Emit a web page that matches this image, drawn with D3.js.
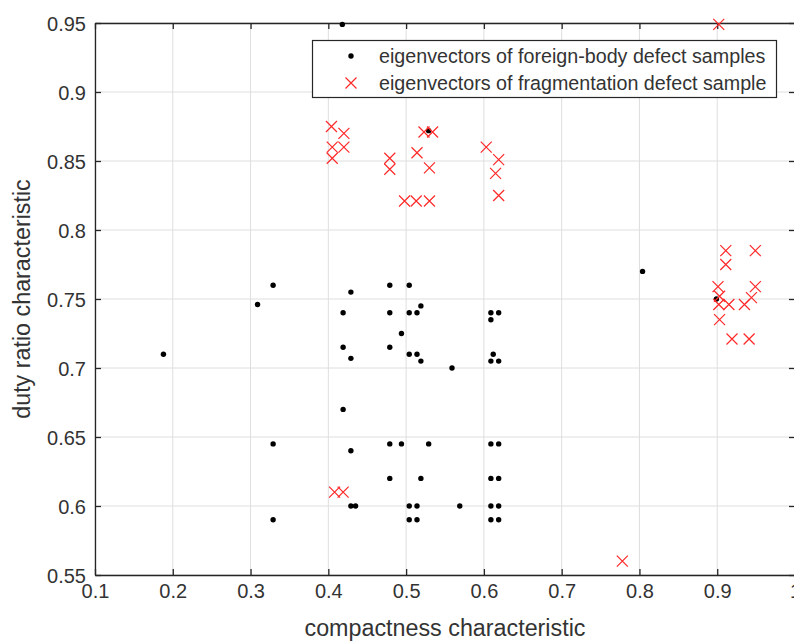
<!DOCTYPE html>
<html>
<head>
<meta charset="utf-8">
<script src="https://cdn.jsdelivr.net/npm/d3@7"></script>
<style>
  html, body { margin: 0; padding: 0; background: #fff; }
  svg { display: block; }
  text { font-family: "Liberation Sans", Arial, Helvetica, sans-serif; fill: #333; }
</style>
</head>
<body>
<svg id="chart" width="794" height="641"></svg>
<script>
// ---- data ----
const xTicks = [0.1, 0.2, 0.3, 0.4, 0.5, 0.6, 0.7, 0.8, 0.9, 1];
const yTicks = [0.55, 0.6, 0.65, 0.7, 0.75, 0.8, 0.85, 0.9, 0.95];
const xLabel = "compactness characteristic";
const yLabel = "duty ratio characteristic";
const seriesNames = ["eigenvectors of foreign-body defect samples", "eigenvectors of fragmentation defect sample"];

// foreign-body defect samples (black dots): [compactness, duty ratio]
const foreignBody = [
  [0.418, 0.949],
  [0.329, 0.760], [0.309, 0.746], [0.429, 0.755], [0.419, 0.740],
  [0.479, 0.760], [0.504, 0.760], [0.479, 0.740], [0.504, 0.740], [0.514, 0.740],
  [0.519, 0.745], [0.494, 0.725], [0.419, 0.715], [0.429, 0.707], [0.479, 0.715],
  [0.504, 0.710], [0.514, 0.710], [0.519, 0.705],
  [0.609, 0.740], [0.619, 0.740], [0.609, 0.735],
  [0.804, 0.770], [0.559, 0.700],
  [0.612, 0.710], [0.609, 0.705], [0.619, 0.705],
  [0.188, 0.710],
  [0.419, 0.670], [0.329, 0.645], [0.429, 0.640], [0.479, 0.645], [0.494, 0.645], [0.529, 0.645],
  [0.479, 0.620], [0.519, 0.620],
  [0.429, 0.600], [0.435, 0.600], [0.504, 0.600], [0.514, 0.600],
  [0.329, 0.590], [0.504, 0.590], [0.514, 0.590],
  [0.609, 0.645], [0.619, 0.645], [0.609, 0.620], [0.619, 0.620],
  [0.569, 0.600], [0.609, 0.600], [0.619, 0.600], [0.609, 0.590], [0.619, 0.590],
  [0.529, 0.872], [0.899, 0.750]
];

// fragmentation defect samples (red crosses)
const fragmentation = [
  [0.404, 0.875], [0.420, 0.870], [0.405, 0.860], [0.420, 0.860], [0.405, 0.852],
  [0.479, 0.852], [0.479, 0.844],
  [0.514, 0.856], [0.523, 0.871], [0.534, 0.871], [0.530, 0.845],
  [0.498, 0.821], [0.513, 0.821], [0.530, 0.821],
  [0.603, 0.860], [0.619, 0.851], [0.615, 0.841], [0.619, 0.825],
  [0.902, 0.949],
  [0.911, 0.785], [0.949, 0.785], [0.911, 0.775], [0.901, 0.759], [0.949, 0.759],
  [0.903, 0.752], [0.944, 0.751], [0.902, 0.746], [0.915, 0.746], [0.935, 0.746],
  [0.903, 0.735], [0.919, 0.721], [0.941, 0.721],
  [0.778, 0.560],
  [0.408, 0.610], [0.419, 0.610]
];

// ---- layout ----
const m = { left: 95, right: 795, top: 23, bottom: 575 };

const svg = d3.select("#chart");
const x = d3.scaleLinear().domain([0.1, 1]).range([m.left, m.right]);
const y = d3.scaleLinear().domain([0.55, 0.95]).range([m.bottom, m.top]);

const axisColor = "#262626";
const textColor = "#333";
const gridColor = "#dedede";

// grid
const g = svg.append("g");
g.selectAll(".gx").data(xTicks).enter().append("line")
  .attr("x1", d => x(d)).attr("x2", d => x(d))
  .attr("y1", m.top).attr("y2", m.bottom)
  .attr("stroke", gridColor).attr("stroke-width", 1);
g.selectAll(".gy").data(yTicks).enter().append("line")
  .attr("x1", m.left).attr("x2", m.right)
  .attr("y1", d => y(d)).attr("y2", d => y(d))
  .attr("stroke", gridColor).attr("stroke-width", 1);

// axes with inward ticks
const tickLen = 6;
const axB = svg.append("g").attr("transform", `translate(0,${m.bottom})`)
  .call(d3.axisBottom(x).tickValues(xTicks).tickSizeInner(-tickLen).tickSizeOuter(0).tickFormat(d => d3.format("")(d)));
const axT = svg.append("g").attr("transform", `translate(0,${m.top})`)
  .call(d3.axisTop(x).tickValues(xTicks).tickSizeInner(-tickLen).tickSizeOuter(0).tickFormat(""));
const axL = svg.append("g").attr("transform", `translate(${m.left},0)`)
  .call(d3.axisLeft(y).tickValues(yTicks).tickSizeInner(-tickLen).tickSizeOuter(0).tickFormat(d => d3.format("")(d)));
const axR = svg.append("g").attr("transform", `translate(${m.right},0)`)
  .call(d3.axisRight(y).tickValues(yTicks).tickSizeInner(-tickLen).tickSizeOuter(0).tickFormat(""));

[axB, axT, axL, axR].forEach(a => {
  a.selectAll("path").attr("stroke", axisColor).attr("stroke-width", 1.3);
  a.selectAll("line").attr("stroke", axisColor).attr("stroke-width", 1.3);
});
axB.selectAll("text").attr("font-size", 20).attr("fill", textColor)
  .attr("font-family", "Liberation Sans, Arial, sans-serif").attr("dy", "0.95em").attr("y", 4);
axL.selectAll("text").attr("font-size", 20).attr("fill", textColor)
  .attr("font-family", "Liberation Sans, Arial, sans-serif").attr("x", -9).attr("dy", "0.35em");

// axis labels
svg.append("text").attr("transform", `translate(${(m.left + m.right) / 2},636)`)
  .attr("text-anchor", "middle").attr("font-size", 23.3).text(xLabel);
svg.append("text").attr("transform", `translate(30,${(m.top + m.bottom) / 2}) rotate(-90)`)
  .attr("text-anchor", "middle").attr("font-size", 23.3).text(yLabel);

// black dots
svg.append("g").selectAll("circle").data(foreignBody).enter().append("circle")
  .attr("cx", d => x(d[0])).attr("cy", d => y(d[1])).attr("r", 2.7).attr("fill", "#000");

// red crosses
const cs = 5.5;
const crossPath = d => {
  const cx = x(d[0]), cy = y(d[1]);
  return `M${cx - cs},${cy - cs}L${cx + cs},${cy + cs}M${cx - cs},${cy + cs}L${cx + cs},${cy - cs}`;
};
svg.append("g").selectAll("path").data(fragmentation).enter().append("path")
  .attr("d", crossPath).attr("stroke", "#ff2828").attr("stroke-width", 1.2).attr("fill", "none");

// legend
const lg = svg.append("g");
lg.append("rect").attr("x", 312.5).attr("y", 40.5).attr("width", 464).attr("height", 57)
  .attr("fill", "#fff").attr("stroke", axisColor).attr("stroke-width", 1.2);
lg.append("circle").attr("cx", 351).attr("cy", 56).attr("r", 2.7).attr("fill", "#000");
const lx = 351, ly = 83;
lg.append("path").attr("d", `M${lx - cs},${ly - cs}L${lx + cs},${ly + cs}M${lx - cs},${ly + cs}L${lx + cs},${ly - cs}`)
  .attr("stroke", "#ff2828").attr("stroke-width", 1.2);
lg.selectAll("text.leg").data(seriesNames).enter().append("text")
  .attr("transform", (d, i) => `translate(379,${56 + i * 27.3})`)
  .attr("dy", "0.35em").attr("font-size", 19.7).text(d => d);
</script>
</body>
</html>
